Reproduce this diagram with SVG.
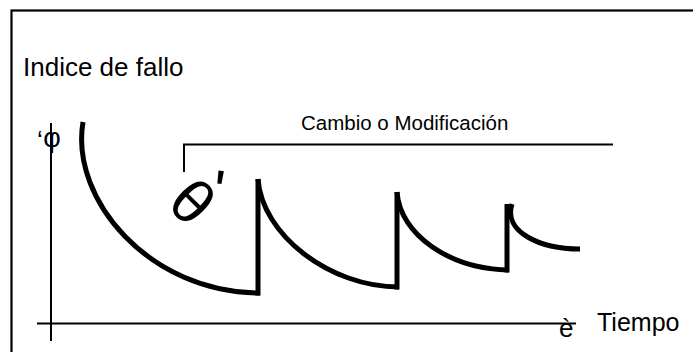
<svg xmlns="http://www.w3.org/2000/svg" width="693" height="352" viewBox="0 0 693 352">
<style>
  text { font-family: "Liberation Sans", Arial, sans-serif; fill: #000; }
  .axis { stroke: #000; stroke-width: 2; fill: none; }
  .curve { stroke: #000; stroke-width: 5; fill: none; stroke-linecap: butt; }
</style>
<rect x="0" y="0" width="693" height="352" fill="#fff"/>
<rect x="11.5" y="10.5" width="700" height="360" fill="none" stroke="#000" stroke-width="2.2"/>
<g id="labels">
  <text x="23" y="76" font-size="26">Indice de fallo</text>
  <text x="301" y="130" font-size="20.5">Cambio o Modificación</text>
  <text x="597" y="331" font-size="25">Tiempo</text>
</g>
<g id="axes">
  <line class="axis" x1="51" y1="123" x2="51" y2="341"/>
  <line class="axis" x1="37" y1="323.5" x2="576" y2="323.5"/>
  <text x="37" y="149" font-size="26">‘</text>
  <text x="52" y="147" font-size="27" text-anchor="middle">φ</text>
  <text x="559" y="337" font-size="26">è</text>
</g>
<g id="bracket">
  <polyline class="axis" points="184,172 184,144.5 613,144.5"/>
</g>
<g id="symbol">
  <g transform="translate(192,202) rotate(45)">
    <text x="0" y="21" font-size="62" text-anchor="middle">θ</text>
  </g>
  <text x="213" y="212" font-size="60" transform="rotate(8 219 188)">'</text>
</g>
<g id="connectors">
  <path class="curve" stroke-width="6" d="M83,122 C70,200 150,293 260,293"/>
  <path class="curve" d="M258,295.5 L258,179"/>
  <path class="curve" d="M258,179 C262,235 330,287 399,287"/>
  <path class="curve" d="M397,289.5 L397,192"/>
  <path class="curve" d="M397,192 C400,235 450,269 509,270"/>
  <path class="curve" d="M507,272.5 L507,204"/>
  <path class="curve" d="M512,204 C503,232 540,249 580,249"/>
</g>
</svg>
